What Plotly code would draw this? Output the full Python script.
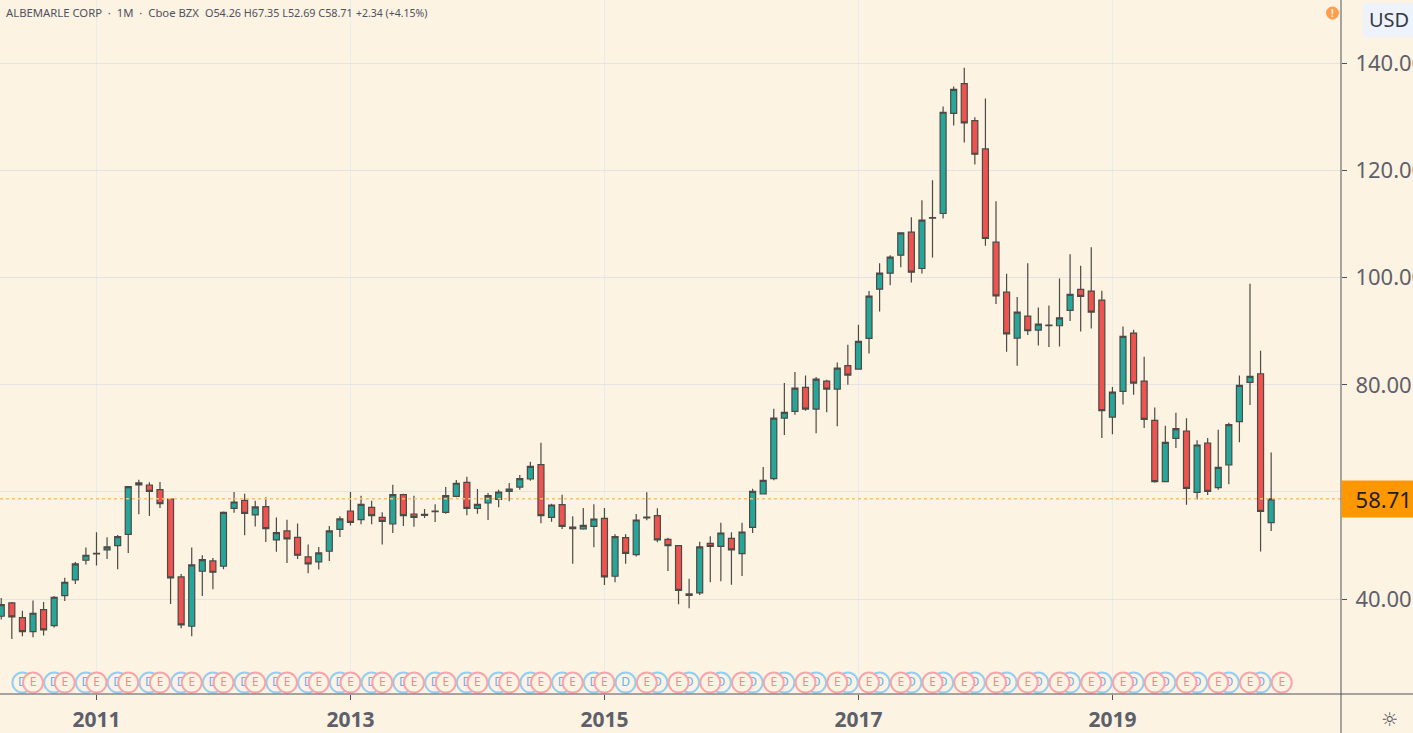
import pandas as pd
import plotly.graph_objects as go

# Monthly bars for ALB, Apr 2010 to Apr 2020
opens = [36.80,39.29,36.55,33.94,38.04,35.06,40.66,43.58,47.25,48.43,49.18,49.98,52.10,61.68,61.30,60.43,58.69,44.14,34.93,45.20,
         47.12,46.13,56.95,58.44,55.71,57.26,51.04,52.72,51.54,47.87,46.94,48.93,53.03,56.45,54.83,57.13,55.26,54.02,59.49,55.89,
         55.64,56.32,56.20,59.18,61.79,56.94,57.94,58.62,60.12,60.92,62.42,65.09,55.26,57.63,53.46,53.09,53.58,55.08,44.26,51.47,
         48.30,55.14,55.58,51.16,49.98,40.96,41.15,50.41,49.85,51.35,48.49,53.40,59.62,62.48,73.80,75.04,79.52,75.48,80.70,79.21,
         83.57,82.94,88.66,97.87,100.85,104.21,108.50,101.72,111.12,111.99,130.70,136.24,129.34,124.05,106.64,97.31,88.73,92.83,90.22,91.03,
         91.03,93.89,97.81,97.50,95.82,73.99,78.78,89.66,80.71,73.37,61.93,70.01,71.38,59.94,69.14,60.81,65.03,73.12,80.46,82.07,54.26]
highs = [40.22,39.47,37.80,39.72,39.47,40.59,44.00,46.94,49.61,52.47,51.54,51.97,61.05,62.30,61.80,61.86,58.75,44.70,49.61,48.18,
         47.68,56.33,60.00,59.69,58.38,59.00,55.21,54.83,54.09,50.17,49.74,53.65,55.46,60.00,59.31,58.37,56.20,61.36,59.68,59.31,
         56.82,57.69,60.92,62.23,62.85,60.55,59.80,60.43,61.67,63.16,65.65,69.19,57.81,59.49,55.45,57.00,57.69,57.00,52.09,52.09,
         55.90,59.93,56.94,51.47,50.10,43.82,50.72,51.72,54.27,52.47,54.27,60.61,64.66,75.54,80.33,82.38,81.76,81.45,80.95,84.19,
         87.48,91.21,97.50,102.72,104.21,108.50,111.30,114.47,118.20,131.95,135.68,139.22,129.96,133.44,114.29,100.73,96.38,102.72,94.45,94.82,
         99.86,104.40,102.22,105.71,97.56,79.59,90.90,90.28,85.25,75.79,72.37,74.80,73.74,69.64,70.07,71.63,72.93,81.76,98.87,86.37,67.35]
lows = [36.18,32.57,33.07,32.88,33.19,34.69,39.66,42.83,46.44,46.25,47.50,45.57,48.62,55.83,55.52,57.01,39.10,34.56,33.07,40.59,
        41.84,45.57,56.14,51.91,53.53,50.67,48.86,46.75,47.50,44.82,45.51,47.12,51.60,53.72,53.96,53.96,50.17,52.34,53.65,53.52,
        55.14,54.39,55.95,59.00,55.64,55.95,54.77,57.13,58.25,60.43,62.10,54.14,54.46,53.09,46.62,52.96,49.67,42.64,43.14,46.62,
        47.93,54.70,50.60,45.25,39.03,38.29,40.77,43.14,43.32,42.70,44.32,52.34,59.62,62.17,70.63,74.42,75.17,70.94,74.86,72.25,
        80.02,82.82,85.87,93.70,98.61,101.97,99.11,100.79,103.78,111.05,128.40,125.23,121.13,105.95,95.07,86.18,83.56,89.29,87.36,87.05,
        87.17,91.90,89.97,90.53,70.07,70.76,76.35,78.16,71.94,61.74,61.80,68.21,57.63,58.57,59.44,60.43,61.43,69.26,76.23,48.87,52.69]
closes = [38.98,36.68,33.94,37.36,34.25,40.34,43.14,46.56,48.18,48.55,49.74,51.66,60.99,61.30,60.12,57.82,43.95,35.18,46.38,47.37,
          45.01,56.20,58.13,56.02,57.20,53.16,52.41,51.23,48.18,46.56,48.62,52.72,54.96,54.34,57.69,55.58,54.52,59.49,55.58,55.26,
          55.82,56.45,59.31,61.63,56.94,57.69,59.31,59.99,60.55,62.48,64.78,55.58,57.57,53.58,53.15,53.77,54.95,44.13,51.66,48.55,
          54.77,55.33,51.04,49.98,41.64,40.71,49.73,49.85,52.34,49.17,52.53,60.12,62.17,73.80,74.85,79.39,75.48,81.08,79.21,83.13,
          81.82,88.10,96.56,100.85,103.84,108.38,101.04,110.74,111.24,130.89,135.18,128.90,123.05,107.32,96.62,89.53,93.58,90.10,91.34,91.15,
          92.52,96.88,96.50,93.58,75.17,78.65,89.04,80.33,73.55,61.93,69.26,71.81,60.68,68.77,60.12,64.60,72.56,79.90,81.58,56.37,58.71]

# One category per month, plus the next month for the upcoming earnings flag
months = pd.date_range("2010-04-01", "2020-05-01", freq="MS").strftime("%Y-%m").tolist()
bar_months = months[:len(opens)]

# Quarterly corporate events shown along the bottom of the pane
dividend_months = months[2:120:3]
earnings_months = months[3:58:3] + months[61:122:3]
event_level = 24.42

year_ticks = ["2011-01", "2013-01", "2015-01", "2017-01", "2019-01"]
year_labels = ["2011", "2013", "2015", "2017", "2019"]
# The 60 level keeps its gridline; its label position is taken by the last-price tag
price_ticks = [40, 60, 80, 100, 120, 140]
price_labels = ["40.00", "", "80.00", "100.00", "120.00", "140.00"]
last_price = 58.71
symbol_text = "ALBEMARLE CORP  ·  1M  ·  Cboe BZX"
quote_text = "O54.26 H67.35 L52.69 C58.71"
change_text = "+2.34 (+4.15%)"

BG = "#fdf3e2"
FONT = "Noto Sans"
TEXT = "#5d606b"
AXIS = "#50535e"
WIDTH, HEIGHT = 1413, 733
PANE_W, PANE_H = 1341, 694


def px_x(value):
    return value / PANE_W


def px_y(value):
    return 1 - value / PANE_H


fig = go.Figure()
fig.add_trace(go.Candlestick(
    x=bar_months, open=opens, high=highs, low=lows, close=closes,
    increasing=dict(fillcolor="#26a69a", line=dict(color="#4b4a45", width=1.2)),
    decreasing=dict(fillcolor="#ef5350", line=dict(color="#4b4a45", width=1.2)),
    whiskerwidth=0, showlegend=False, hoverinfo="skip",
))
fig.add_trace(go.Scatter(
    x=dividend_months, y=[event_level] * len(dividend_months), mode="markers+text",
    text=["D"] * len(dividend_months), textposition="middle center",
    textfont=dict(family=FONT, size=12, color="#5cb3f0"),
    marker=dict(size=20, color=BG, line=dict(color="#93cef3", width=2)),
    showlegend=False, hoverinfo="skip",
))
fig.add_trace(go.Scatter(
    x=earnings_months, y=[event_level] * len(earnings_months), mode="markers+text",
    text=["E"] * len(earnings_months), textposition="middle center",
    textfont=dict(family=FONT, size=12, color="#f28a90"),
    marker=dict(size=20, color=BG, line=dict(color="#f6a6aa", width=2)),
    showlegend=False, hoverinfo="skip",
))

shapes = [
    # Last price line
    dict(type="line", xref="paper", yref="y", x0=0, x1=1, y0=last_price, y1=last_price,
         line=dict(color="#ffc06e", width=1.5, dash="dot")),
    # Pane borders running out to the page edges
    dict(type="line", xref="paper", yref="paper", x0=1, x1=1, y0=px_y(HEIGHT), y1=1,
         line=dict(color=AXIS, width=1)),
    dict(type="line", xref="paper", yref="paper", x0=0, x1=px_x(WIDTH), y0=0, y1=0,
         line=dict(color=AXIS, width=1)),
    # Currency button
    dict(type="rect", xref="paper", yref="paper", x0=px_x(1363), x1=px_x(WIDTH), y0=px_y(37), y1=px_y(3),
         fillcolor="#eef2fa", line=dict(width=0)),
    # Alert badge
    dict(type="circle", xref="paper", yref="paper", x0=px_x(1326), x1=px_x(1339), y0=px_y(19.5), y1=px_y(6.5),
         fillcolor="#ff9f4d", line=dict(width=0)),
]

annotations = [
    dict(text=symbol_text, xref="paper", yref="paper", x=px_x(4), y=px_y(13), xanchor="left", yanchor="middle",
         showarrow=False, font=dict(family=FONT, size=11.3, color="#4e5160")),
    dict(text=quote_text, xref="paper", yref="paper", x=px_x(203), y=px_y(13), xanchor="left", yanchor="middle",
         showarrow=False, font=dict(family=FONT, size=10.8, color="#4e5160")),
    dict(text=change_text, xref="paper", yref="paper", x=px_x(354), y=px_y(13), xanchor="left", yanchor="middle",
         showarrow=False, font=dict(family=FONT, size=10.5, color="#4e5160")),
    dict(text="USD", xref="paper", yref="paper", x=px_x(1389), y=px_y(20), xanchor="center", yanchor="middle",
         showarrow=False, font=dict(family=FONT, size=20, color="#363a45")),
    dict(text="<b>!</b>", xref="paper", yref="paper", x=px_x(1332.5), y=px_y(13), xanchor="center", yanchor="middle",
         showarrow=False, font=dict(family=FONT, size=10, color="#fff3e0")),
    dict(text=f"\u00a0\u00a0{last_price:.2f}", xref="paper", yref="y", x=1, y=last_price, xanchor="left", yanchor="middle",
         showarrow=False, width=72, height=36, bgcolor="#ff9800", borderpad=0,
         font=dict(family=FONT, size=22, color="#1f1f1f")),
    dict(text="☼", xref="paper", yref="paper", x=px_x(1389), y=px_y(719), xanchor="center", yanchor="middle",
         showarrow=False, font=dict(family="DejaVu Sans", size=19, color="#50535e")),
]

fig.update_layout(
    width=WIDTH, height=HEIGHT,
    margin=dict(l=0, r=WIDTH - PANE_W, t=0, b=HEIGHT - PANE_H, autoexpand=False),
    paper_bgcolor=BG, plot_bgcolor=BG,
    boxgap=0.19,
    shapes=shapes, annotations=annotations,
    xaxis=dict(
        type="category", categoryorder="array", categoryarray=months,
        range=[-0.118, 126.6], rangeslider=dict(visible=False),
        tickmode="array", tickvals=year_ticks, ticktext=year_labels,
        tickfont=dict(family=FONT, size=21, color=TEXT, weight=700),
        ticks="outside", ticklen=5, tickcolor=AXIS, tickwidth=1,
        ticklabelstandoff=2,
        showgrid=True, gridcolor="#e6ecef", gridwidth=1, zeroline=False,
    ),
    yaxis=dict(
        side="right", range=[22.28, 151.85],
        tickmode="array", tickvals=price_ticks, ticktext=price_labels,
        tickfont=dict(family=FONT, size=22, color=TEXT),
        ticks="outside", ticklen=5, tickcolor=AXIS, tickwidth=1,
        ticklabelstandoff=4,
        showgrid=True, gridcolor="#e5e3e2", gridwidth=1, zeroline=False,
    ),
)

fig.write_html("out.html", config=dict(displayModeBar=False))
